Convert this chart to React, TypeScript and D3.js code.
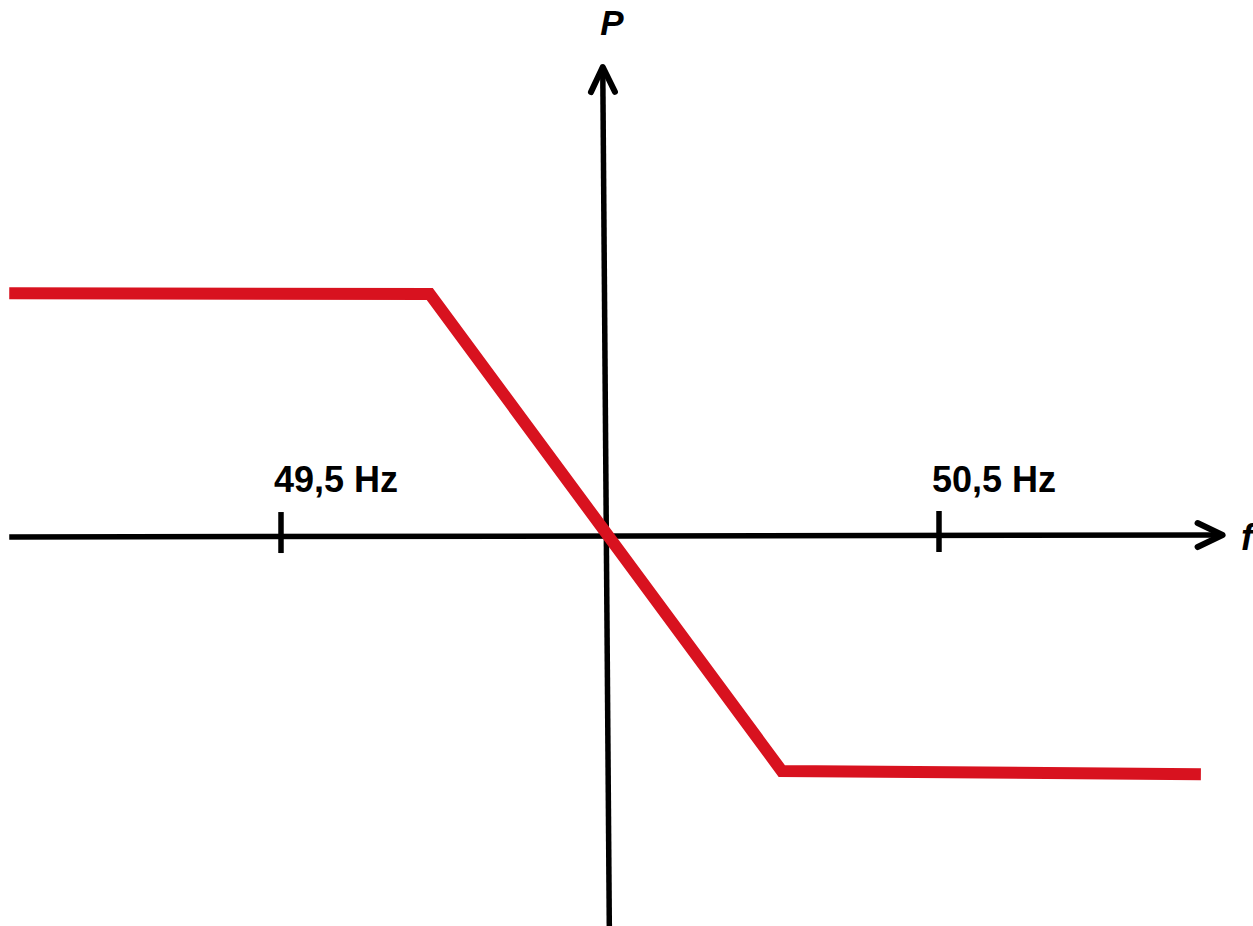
import React from "react";
import * as d3 from "d3";

// Droop characteristic: active power P versus grid frequency f
const frequencyHz = [49.087, 49.726, 50.261, 50.898];
const powerPu = [0.999, 0.996, -0.967, -0.98];

// Tick positions on the frequency axis and their labels
const tickHz = [49.5, 50.5];
const tickLabels = ["49,5 Hz", "50,5 Hz"];

// Axis end points (frequency, power) — the drawn axes are slightly skewed
const fAxisStart = [49.087, -0.004];
const fAxisEnd = [50.931, 0.004];
const pAxisBottom = [49.999, -1.605];
const pAxisTop = [49.989, 1.93];

const axisTitles = ["f", "P"];

const W = 1253;
const H = 926;

export default function App() {
  const x = d3.scaleLinear().domain([49.5, 50.5]).range([281, 939]);
  const y = d3.scaleLinear().domain([0, 1]).range([536, 293]);

  const curve = d3
    .line<number>()
    .x((_, i) => x(frequencyHz[i]))
    .y((_, i) => y(powerPu[i]))
    .curve(d3.curveLinear);

  const fx0 = x(fAxisStart[0]);
  const fy0 = y(fAxisStart[1]);
  const fx1 = x(fAxisEnd[0]);
  const fy1 = y(fAxisEnd[1]);
  const px0 = x(pAxisBottom[0]);
  const py0 = y(pAxisBottom[1]);
  const px1 = x(pAxisTop[0]);
  const py1 = y(pAxisTop[1]);

  // open chevron arrowheads
  const head = 25;
  const spread = 12;
  const tiltF = Math.atan2(fy1 - fy0, fx1 - fx0);
  const tiltP = Math.atan2(py1 - py0, px1 - px0);
  const chevron = (tx: number, ty: number, a: number) => {
    const bx = tx - head * Math.cos(a);
    const by = ty - head * Math.sin(a);
    const nx = -Math.sin(a) * spread;
    const ny = Math.cos(a) * spread;
    return `M${bx + nx},${by + ny}L${tx},${ty}L${bx - nx},${by - ny}`;
  };

  const axisY = (f: number) => fy0 + ((x(f) - fx0) / (fx1 - fx0)) * (fy1 - fy0);

  const font = "'Liberation Sans', Arial, sans-serif";

  return (
    <svg
      width={W}
      height={H}
      viewBox={`0 0 ${W} ${H}`}
      style={{ position: "absolute", left: 0, top: 0, background: "#fff" }}
    >
      {/* frequency axis */}
      <line x1={fx0} y1={fy0} x2={fx1 - 2} y2={fy1} stroke="#000" strokeWidth={5.5} />
      <path
        d={chevron(fx1, fy1, tiltF)}
        fill="none"
        stroke="#000"
        strokeWidth={6}
        strokeLinecap="round"
        strokeLinejoin="round"
      />
      {/* power axis */}
      <line x1={px0} y1={py0 + 5} x2={px1} y2={py1 + 2} stroke="#000" strokeWidth={5.5} />
      <path
        d={chevron(px1, py1, tiltP)}
        fill="none"
        stroke="#000"
        strokeWidth={6}
        strokeLinecap="round"
        strokeLinejoin="round"
      />

      {/* ticks and labels */}
      {tickHz.map((f, i) => (
        <g key={f}>
          <line
            x1={x(f)}
            x2={x(f)}
            y1={axisY(f) - 24.5}
            y2={axisY(f) + 16.5}
            stroke="#000"
            strokeWidth={5.5}
          />
          <text
            x={x(f) + 55}
            y={492}
            textAnchor="middle"
            fontFamily={font}
            fontWeight="bold"
            fontSize={36}
            fill="#000"
          >
            {tickLabels[i]}
          </text>
        </g>
      ))}

      {/* droop curve */}
      <path
        d={curve(frequencyHz) ?? ""}
        fill="none"
        stroke="#d8121f"
        strokeWidth={12}
        strokeLinejoin="miter"
        strokeLinecap="butt"
      />

      {/* axis titles */}
      <text
        x={1241}
        y={550}
        fontFamily={font}
        fontWeight="bold"
        fontStyle="italic"
        fontSize={36}
        fill="#000"
      >
        {axisTitles[0]}
      </text>
      <text
        x={612}
        y={35}
        textAnchor="middle"
        fontFamily={font}
        fontWeight="bold"
        fontStyle="italic"
        fontSize={35}
        fill="#000"
      >
        {axisTitles[1]}
      </text>
    </svg>
  );
}
